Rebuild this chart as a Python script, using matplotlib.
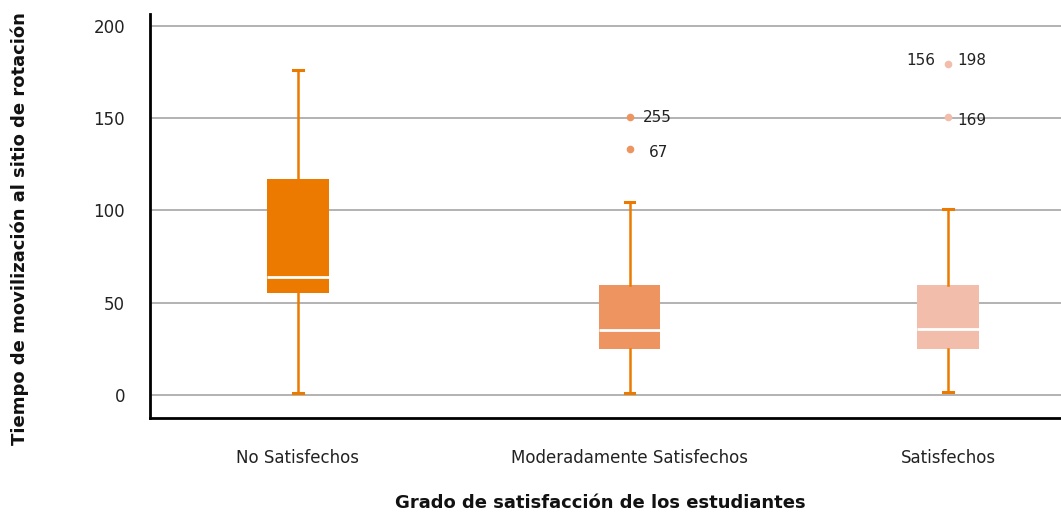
import matplotlib.pyplot as plt

# Tiempo de movilización por grado de satisfacción
categorias = ["No Satisfechos", "Moderadamente Satisfechos", "Satisfechos"]
q1 = [55.5, 25, 25]
mediana = [64, 35, 35.5]
q3 = [117, 59.6, 59.6]
bigote_inf = [1, 1, 1.5]
bigote_sup = [176, 104.5, 101]
atipicos = [[], [150.5, 133.5], [179.5, 150.7]]

colores = ["#EC7A00", "#EE9461", "#F2BDAA"]
naranja = "#EC7A00"

plt.rcParams['font.family'] = ['DejaVu Sans']

fig = plt.figure(figsize=(10.61, 5.12), dpi=100)
ax = fig.add_axes([150/1061, 94/512, 911/1061, 404/512])

stats = []
for i in range(3):
    stats.append(dict(q1=q1[i], med=mediana[i], q3=q3[i],
                      whislo=bigote_inf[i], whishi=bigote_sup[i],
                      fliers=[], label=categorias[i]))

pos = [1, 2.02, 3]
bp = ax.bxp(stats, positions=pos, widths=0.19, patch_artist=True,
            showfliers=False,
            boxprops=dict(linewidth=0),
            medianprops=dict(color="white", linewidth=2),
            whiskerprops=dict(color=naranja, linewidth=1.8),
            capprops=dict(color=naranja, linewidth=2.2),
            capwidths=0.03, zorder=3)
for patch, c in zip(bp['boxes'], colores):
    patch.set_facecolor(c)
    patch.set_edgecolor(c)

for i in range(3):
    if atipicos[i]:
        ax.scatter([pos[i]] * len(atipicos[i]), atipicos[i], s=30,
                   color=colores[i], zorder=4, linewidths=0)

# etiquetas de los atípicos
etq = dict(fontsize=11, va="center", color="#222222")
ax.text(pos[1] + 0.04, 150.5, "255", ha="left", **etq)
ax.text(pos[1] + 0.06, 131.5, "67", ha="left", **etq)
ax.text(pos[2] - 0.04, 181.5, "156", ha="right", **etq)
ax.text(pos[2] + 0.03, 181.5, "198", ha="left", **etq)
ax.text(pos[2] + 0.03, 148.5, "169", ha="left", **etq)

ax.set_xlim(1 - 148/325, 3 + 113/325)
ax.set_ylim(-12.5, 206.5)
ax.set_yticks([0, 50, 100, 150, 200])
ax.yaxis.grid(True, color="#A6A6A6", linewidth=1.2, zorder=0)
ax.set_axisbelow(True)
ax.tick_params(axis="both", length=0, labelsize=12, colors="#222222")
ax.tick_params(axis="y", pad=18)
ax.tick_params(axis="x", pad=22)

for s in ["top", "right"]:
    ax.spines[s].set_visible(False)
for s in ["left", "bottom"]:
    ax.spines[s].set_linewidth(2)
    ax.spines[s].set_color("black")

ax.set_xlabel("Grado de satisfacción de los estudiantes", fontsize=13,
              fontweight="bold", color="#111111", va="center")
ax.set_ylabel("Tiempo de movilización al sitio de rotación", fontsize=13,
              fontweight="bold", color="#111111", va="center")
ax.xaxis.set_label_coords((600 - 150) / 911, (418 - 503) / 404)
ax.yaxis.set_label_coords((20 - 150) / 911, (418 - 229) / 404)

fig.savefig("out.png", dpi=100)
